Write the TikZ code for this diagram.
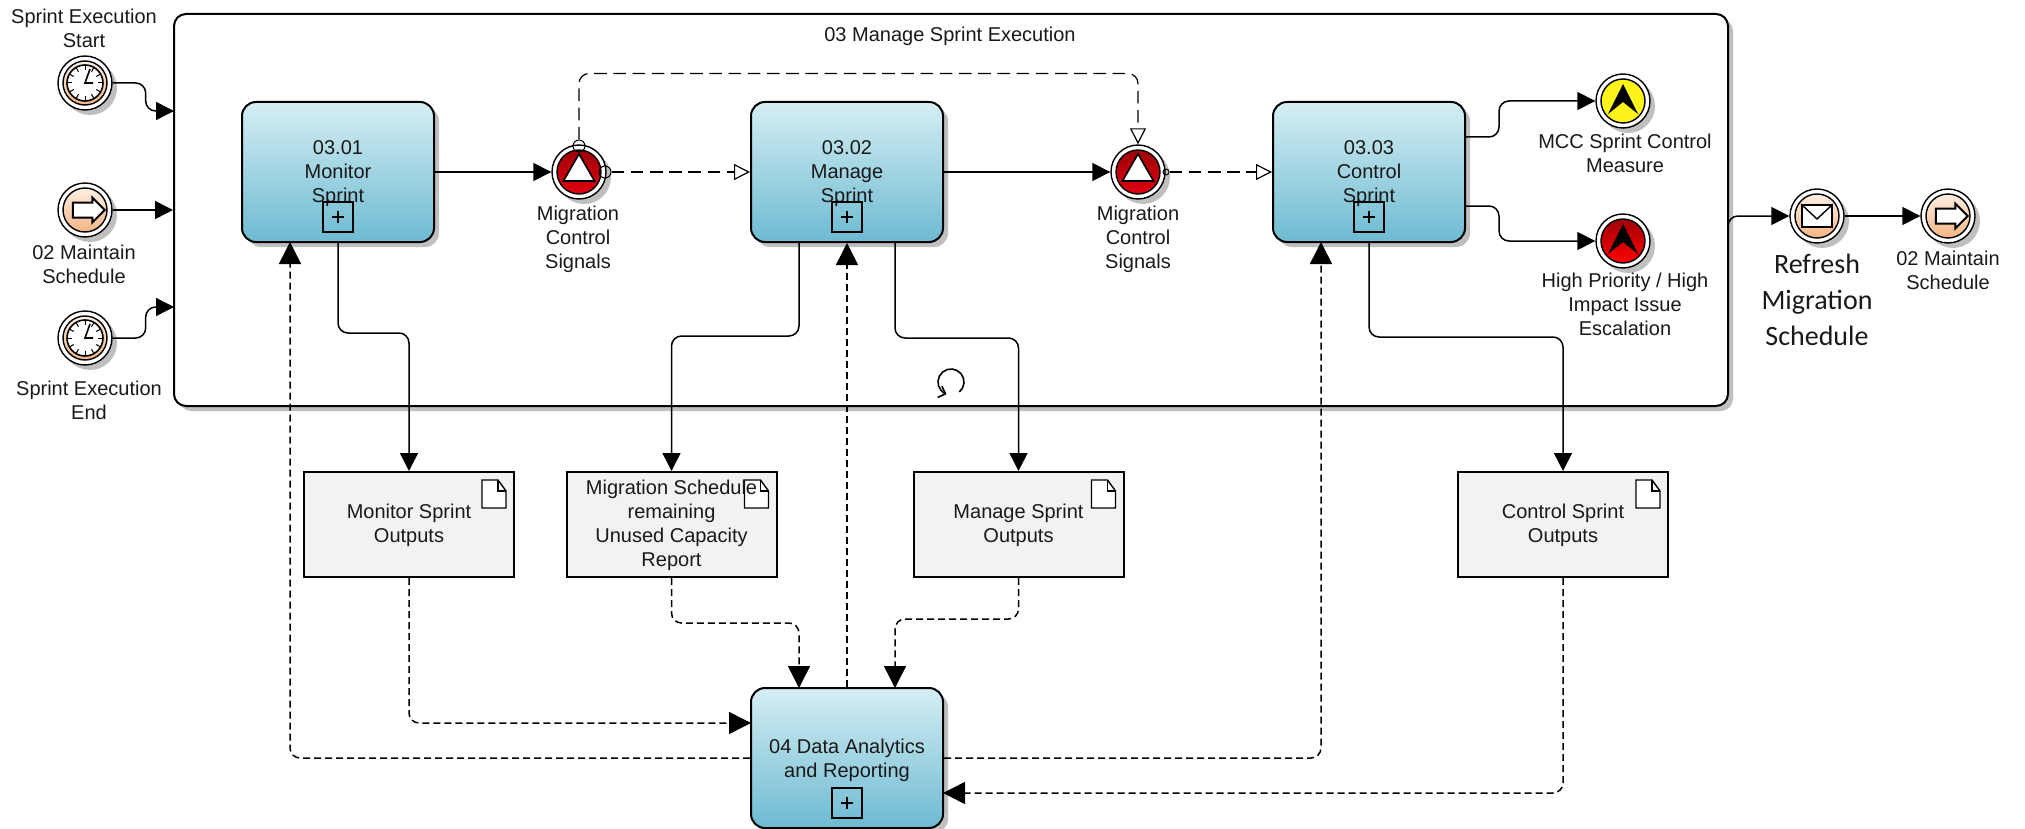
\documentclass[tikz,border=0pt]{standalone}
\usepackage{fontspec}
\setmainfont{Liberation Sans}
\newfontfamily\bigfont{Carlito}
\usetikzlibrary{arrows.meta,shadows,shapes.geometric,shapes.arrows}

\definecolor{taskTop}{HTML}{D5EEF3}
\definecolor{taskBot}{HTML}{6DBAD2}
\definecolor{evtTop}{HTML}{FDEFE4}
\definecolor{evtBot}{HTML}{F5B583}
\definecolor{gateTop}{HTML}{A00008}
\definecolor{gateBot}{HTML}{DE0010}
\definecolor{docFill}{HTML}{F2F2F2}

\tikzset{
  plain/.style={font=\fontsize{10}{12}\selectfont,text=black!90,align=center,inner sep=0pt},
  softshadow/.style={drop shadow={shadow xshift=2.5pt,shadow yshift=-2.5pt}},
  subproc/.style={draw,line width=1pt,rounded corners=6pt,fill=white,minimum width=777pt,minimum height=196pt,softshadow},
  task/.style={plain,draw,line width=1pt,rounded corners=7pt,top color=taskTop,bottom color=taskBot,minimum width=96pt,minimum height=70pt,softshadow},
  plusbox/.style={draw,line width=.8pt,minimum size=15pt,inner sep=0pt,
    path picture={\draw[line width=.7pt] (path picture bounding box.center) ++(-6,0) -- ++(12,0) ++(-6,-6) -- ++(0,12);}},
  docbox/.style={plain,draw,line width=1pt,fill=docFill,minimum width=105pt,minimum height=52.5pt,
    path picture={
      \draw[line width=.7pt,fill=white] (path picture bounding box.north east) ++(-32,8) -- ++(16,0) -- ++(8,11) -- ++(0,17) -- ++(-24,0) -- cycle;
      \draw[line width=.7pt] (path picture bounding box.north east) ++(-16,8) -- ++(0,11) -- ++(8,0);}},
  evtring/.style={circle,draw,line width=.7pt,fill=white,minimum size=27pt,inner sep=0pt,softshadow},
  evtcore/.style={circle,draw,line width=.7pt,minimum size=22pt,inner sep=0pt,top color=#1Top,bottom color=#1Bot},
  facering/.style={circle,draw,line width=.8pt,fill=white,minimum size=18pt,inner sep=0pt},
  blockarrow/.style={single arrow,draw,line width=1pt,fill=white,inner xsep=0pt,inner ysep=3.25pt,minimum height=16pt,minimum width=11.5pt,single arrow head extend=2.5pt,single arrow tip angle=90},
  warnmark/.style={regular polygon,regular polygon sides=3,draw,line width=.8pt,fill=white,inner sep=0pt,minimum size=18pt},
  mailbox/.style={draw,line width=.8pt,fill=white,inner sep=0pt,minimum width=15pt,minimum height=11pt},
  port/.style={circle,draw,line width=.5pt,inner sep=0pt,minimum size=#1},
  seqflow/.style={line width=.75pt,rounded corners=5pt,-{Triangle[length=9pt,width=9pt]}},
  dataflow/.style={line width=.75pt,rounded corners=5pt,dash pattern=on 3.5pt off 2pt,-{Triangle[length=11pt,width=11pt]}},
  evtflow/.style={line width=.6pt,rounded corners=5pt,dash pattern=on 6.3pt off 3.3pt,-{Triangle[open,fill=white,length=8pt,width=8pt]}}
}

\newcommand{\clockmark}[1]{
  \foreach \a in {0,30,...,330}{\draw[line width=.5pt] (#1.center) ++(\a:6.5pt) -- ++(\a:2.5pt);}
  \draw[line width=.8pt] (#1.center) ++(2.5pt,7pt) -- (#1.center) -- ++(4pt,0pt);
}
\newcommand{\escmark}[1]{
  \fill[black] (#1.center) ++(0,-17) -- ++(15,30) -- ++(-15,-12) -- ++(-15,12) -- cycle;
}

\begin{document}
\begin{tikzpicture}[x=0.5pt,y=-0.5pt]
\useasboundingbox (0,0) rectangle (2025,829);

%%Sub process
\node [subproc] (sub) at (951,210) {};
\node [plain] (subt) at (950,36) {03 Manage Sprint Execution};
\coordinate (loop) at (951,382);
\draw [line width=.8pt,-{Straight Barb[length=3pt,width=6pt]}] (loop) ++(-50:6.5pt) arc [start angle=-50,end angle=250,radius=6.5pt];

%%Tasks
\node [task] (t1) at (338,172) {\rule{0pt}{8.4pt}03.01\\Monitor\\Sprint};
\node [task] (t2) at (847,172) {\rule{0pt}{8.4pt}03.02\\Manage\\Sprint};
\node [task] (t3) at (1369,172) {\rule{0pt}{8.4pt}03.03\\Control\\Sprint};
\node [task] (a) at (847,758) {\rule{0pt}{9.5pt}04 Data Analytics\\and Reporting};
\node [plusbox] (t1p) at (338,217) {};
\node [plusbox] (t2p) at (847,217) {};
\node [plusbox] (t3p) at (1369,217) {};
\node [plusbox] (ap) at (847,803) {};

%%Start events
\node [evtring] (s1) at (85,83) {};
\node [evtcore=evt] (s1c) at (s1) {};
\node [facering] (s1f) at (s1) {};
\clockmark{s1}
\node [evtring] (s2) at (85,210) {};
\node [evtcore=evt] (s2c) at (s2) {};
\node [blockarrow] (s2m) at (s2) {};
\node [evtring] (s3) at (85,338) {};
\node [evtcore=evt] (s3c) at (s3) {};
\node [facering] (s3f) at (s3) {};
\clockmark{s3}

%%Gates
\node [evtring] (g1) at (579,172) {};
\node [evtcore=gate] (g1c) at (g1) {};
\node [warnmark] (g1m) at (g1) {};
\node [port=6pt] (g1n) at (579,146) {};
\node [port=6pt] (g1e) at (605,172) {};
\node [evtring] (g2) at (1138,172) {};
\node [evtcore=gate] (g2c) at (g2) {};
\node [warnmark] (g2m) at (g2) {};
\node [port=3pt] (g2e) at (1166,172) {};

%%End events
\node [evtring] (e1) at (1623,101) {};
\node [circle,draw,line width=.7pt,minimum size=22pt,inner sep=0pt,fill=yellow!90!white] (e1c) at (e1) {};
\escmark{e1}
\node [evtring] (e2) at (1623,241) {};
\node [circle,draw,line width=.7pt,minimum size=22pt,inner sep=0pt,top color=gateTop,bottom color=red] (e2c) at (e2) {};
\escmark{e2}
\node [evtring] (m1) at (1817,216) {};
\node [evtcore=evt] (m1c) at (m1) {};
\node [mailbox] (m1m) at (m1) {};
\draw [line width=.7pt] (m1m.north west) -- (1817,219) -- (m1m.north east);
\node [evtring] (e3) at (1948,216) {};
\node [evtcore=evt] (e3c) at (e3) {};
\node [blockarrow] (e3m) at (e3) {};

%%Data objects
\node [docbox] (d1) at (409,524.5) {\rule{0pt}{8.4pt}Monitor Sprint\\Outputs};
\node [docbox] (d2) at (671.5,524.5) {\rule{0pt}{8.4pt}Migration Schedule\\remaining\\Unused Capacity\\Report};
\node [docbox] (d3) at (1018.5,524.5) {\rule{0pt}{8.4pt}Manage Sprint\\Outputs};
\node [docbox] (d4) at (1563,524.5) {\rule{0pt}{8.4pt}Control Sprint\\Outputs};

%%Label
\node [plain] (s1t) at (84,28) {Sprint Execution\\Start};
\node [plain] (s2t) at (84,264) {02 Maintain\\Schedule};
\node [plain] (s3t) at (89,400) {Sprint Execution\\End};
\node [plain] (g1t) at (578,239) {Migration\\Control\\Signals};
\node [plain] (g2t) at (1138,239) {Migration\\Control\\Signals};
\node [plain] (e1t) at (1625,153) {MCC Sprint Control\\Measure};
\node [plain] (e2t) at (1625,304) {High Priority / High\\Impact Issue\\Escalation};
\node [plain,font=\bigfont\fontsize{14}{18}\selectfont] (m1t) at (1817,300) {Refresh\\Migration\\Schedule};
\node [plain] (e3t) at (1948,270) {02 Maintain\\Schedule};

%%Ports on the box sides
\coordinate (subin1) at (174,111);
\coordinate (subin3) at (174,307);
\coordinate (subout) at (1728,240);
\coordinate (t1in) at (290,242);
\coordinate (t2out1) at (799,242);
\coordinate (t2out2) at (895,242);
\coordinate (t3in) at (1321,242);
\coordinate (t3out1) at (1465,137);
\coordinate (t3out2) at (1465,206);
\coordinate (ain1) at (751,723);
\coordinate (ain2) at (799,688);
\coordinate (ain3) at (895,688);
\coordinate (ain4) at (943,793);

%%Sequence flow
\draw [seqflow] (s1.east) -- ++(33,0) |- (subin1);
\draw [seqflow] (s2.east) -- (sub.west |- s2);
\draw [seqflow] (s3.east) -- ++(33,0) |- (subin3);
\draw [seqflow] (t1.east) -- (g1.west);
\draw [seqflow] (t2.east) -- (g2.west);
\draw [seqflow] (t3out1) -- ++(34,0) |- (e1.west);
\draw [seqflow] (t3out2) -- ++(34,0) |- (e2.west);
\draw [seqflow] (subout) |- (m1.west);
\draw [seqflow] (m1.east) -- (e3.west);
\draw [seqflow] (t1.south) -- ++(0,90) -| (d1.north);
\draw [seqflow] (t2out1) -- ++(0,94) -| (d2.north);
\draw [seqflow] (t2out2) -- ++(0,96) -| (d3.north);
\draw [seqflow] (t3.south) -- ++(0,94) -| (d4.north);

%%Event flow
\draw [evtflow] (g1e.east) -- (t2.west);
\draw [evtflow] (g2e.east) -- (t3.west);
\draw [evtflow] (g1n.north) -- ++(0,-66) -| (g2.north);

%%Data flow
\draw [dataflow] (d1.south) |- (ain1);
\draw [dataflow] (d2.south) -- ++(0,45) -| (ain2);
\draw [dataflow] (d3.south) -- ++(0,41) -| (ain3);
\draw [dataflow] (d4.south) |- (ain4);
\draw [dataflow] (a.west) -| (t1in);
\draw [dataflow] (a.north) -- (t2.south);
\draw [dataflow] (a.east) -| (t3in);
\end{tikzpicture}
\end{document}
